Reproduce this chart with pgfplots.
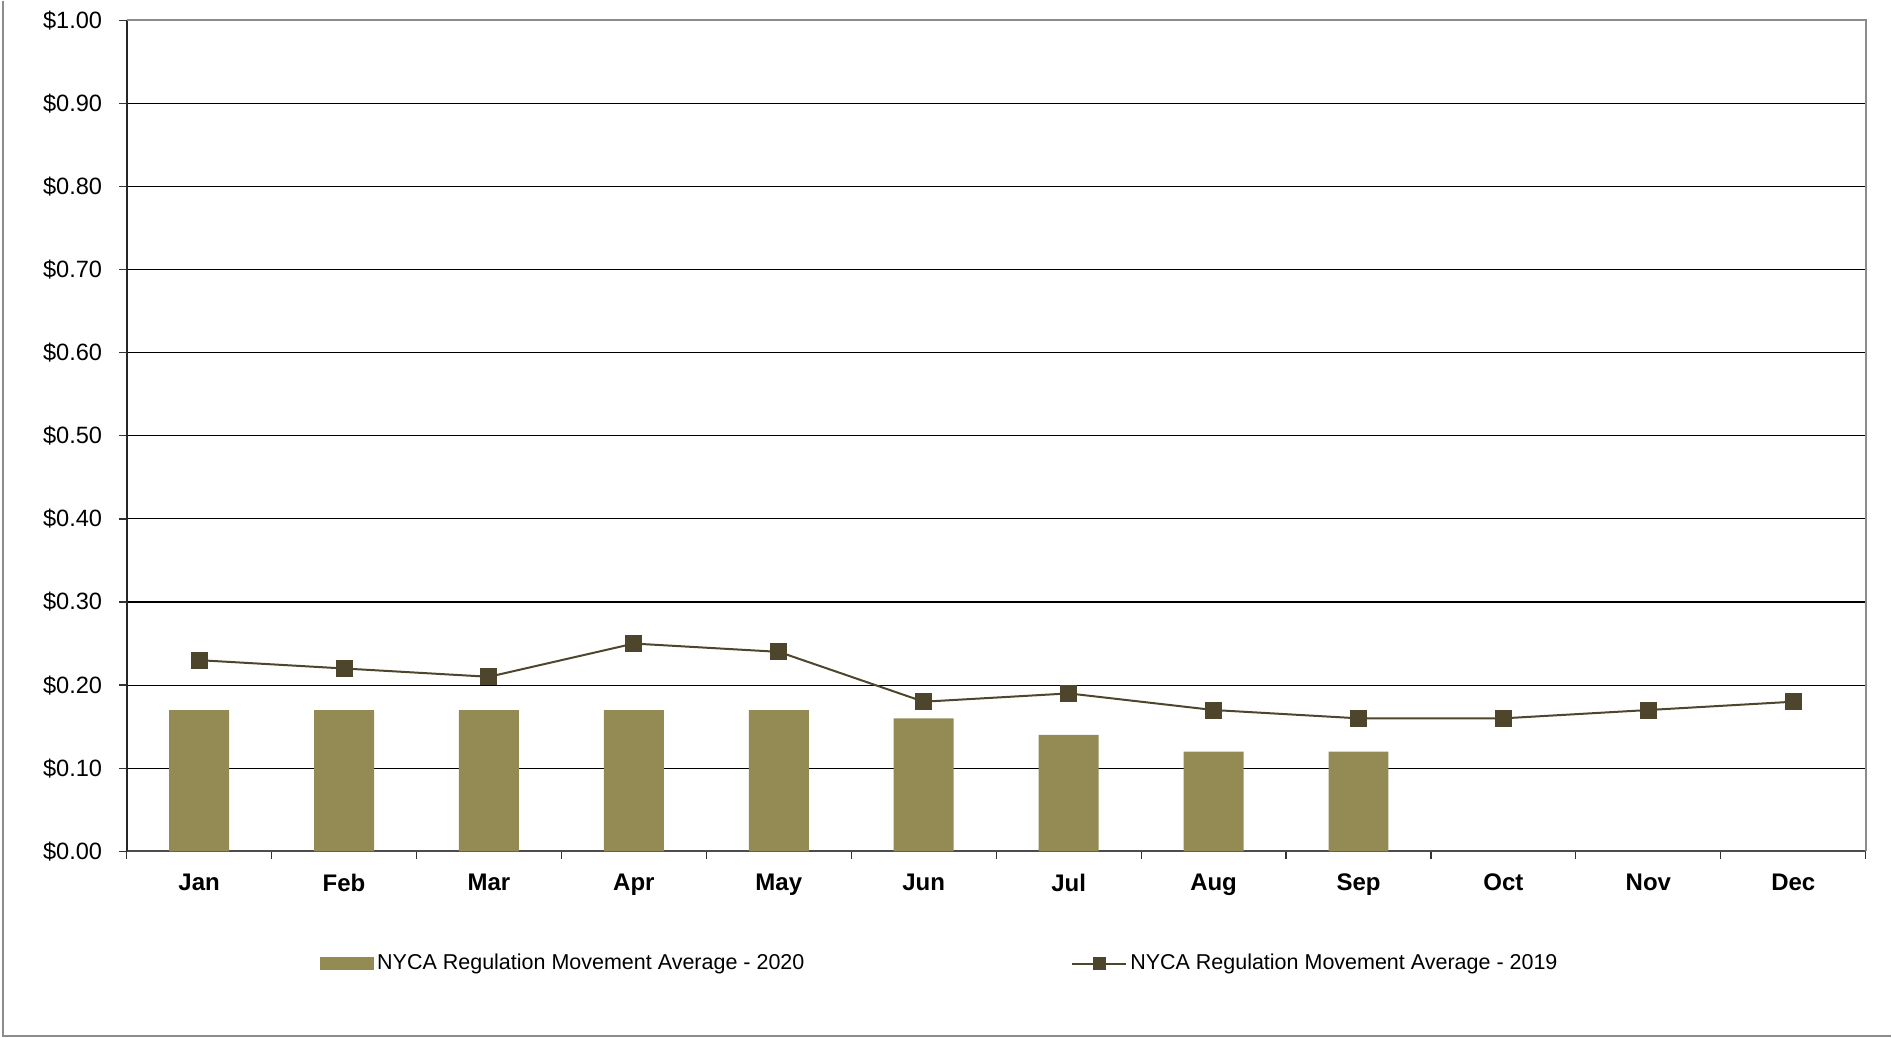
\documentclass[border=0pt]{standalone}
\usepackage{pgfplots}
\pgfplotsset{compat=1.18}
\usepackage{fontspec}
\setmainfont{Liberation Sans}
\definecolor{barc}{HTML}{948A54}
\definecolor{linec}{HTML}{4D462C}
\definecolor{framec}{HTML}{8C8C8C}
\begin{document}
\begin{tikzpicture}
\begin{axis}[
  at={(0pt,0pt)}, anchor=south west,
  width=870pt, height=415.6pt, scale only axis,
  xmin=-0.5, xmax=11.5, ymin=0, ymax=1,
  axis x line*=bottom, axis y line*=left,
  x axis line style={draw=black!70, line width=1pt, -},
  y axis line style={draw=black!85, line width=1pt, -},
  xtick={0,...,11},
  xticklabels={Jan,Feb,Mar,Apr,May,Jun,Jul,Aug,Sep,Oct,Nov,Dec},
  minor xtick={-0.5,0.5,...,11.5},
  major x tick style={draw=none},
  minor x tick style={draw=black!80, line width=0.6pt},
  minor tick length=3.75pt,
  ytick={0,0.1,...,1.01},
  major y tick style={draw=black!80, line width=0.6pt},
  major tick length=3.75pt,
  tick align=outside,
  ymajorgrids,
  grid style={black, line width=0.55pt},
  /pgf/number format/assume math mode=true,
  yticklabel={\$\pgfmathprintnumber[fixed,fixed zerofill,precision=2]{\tick}},
  yticklabel style={font=\fontsize{11.8}{14}\selectfont, xshift=-5pt},
  xticklabel style={font=\fontsize{12}{14}\selectfont\bfseries, yshift=-4pt},
  legend columns=2,
  legend style={draw=none, fill=none, inner sep=0pt, at={(0.1111,-0.1352)}, anchor=west,
    font=\fontsize{10.75}{13}\selectfont,
    nodes={inner sep=1.5pt},
    /tikz/every even column/.append style={column sep=132pt}},
  clip=false,
]
\addplot[ybar, bar width=30pt, bar shift=0pt, fill=barc, draw=none,
  legend image code/.code={\fill[barc] (0pt,-3.25pt) rectangle (27pt,3.25pt);}]
  coordinates {(0,0.17) (1,0.17) (2,0.17) (3,0.17) (4,0.17) (5,0.16) (6,0.14) (7,0.12) (8,0.12)};
\addlegendentry{NYCA Regulation Movement Average - 2020}
\addplot[color=linec, line width=1pt, mark=square*, mark size=3.75pt,
  mark options={fill=linec, draw=linec},
  legend image code/.code={\draw[linec, line width=1pt] (0pt,0pt) -- (27pt,0pt);
    \fill[linec] (10.75pt,-2.75pt) rectangle (16.25pt,2.75pt);}]
  coordinates {(0,0.23) (1,0.22) (2,0.21) (3,0.25) (4,0.24) (5,0.18) (6,0.19) (7,0.17) (8,0.16) (9,0.16) (10,0.17) (11,0.18)};
\addlegendentry{NYCA Regulation Movement Average - 2019}
\draw[framec, line width=1pt] (rel axis cs:0,1) -- (rel axis cs:1,1) -- (rel axis cs:1,0);
\end{axis}
\draw[framec, line width=1pt] (-61.85pt,425.35pt) -- (-61.85pt,-92.2pt) -- (882.65pt,-92.2pt);
\path[use as bounding box] (-63.35pt,-93.15pt) rectangle (882.65pt,425.35pt);
\end{tikzpicture}
\end{document}
